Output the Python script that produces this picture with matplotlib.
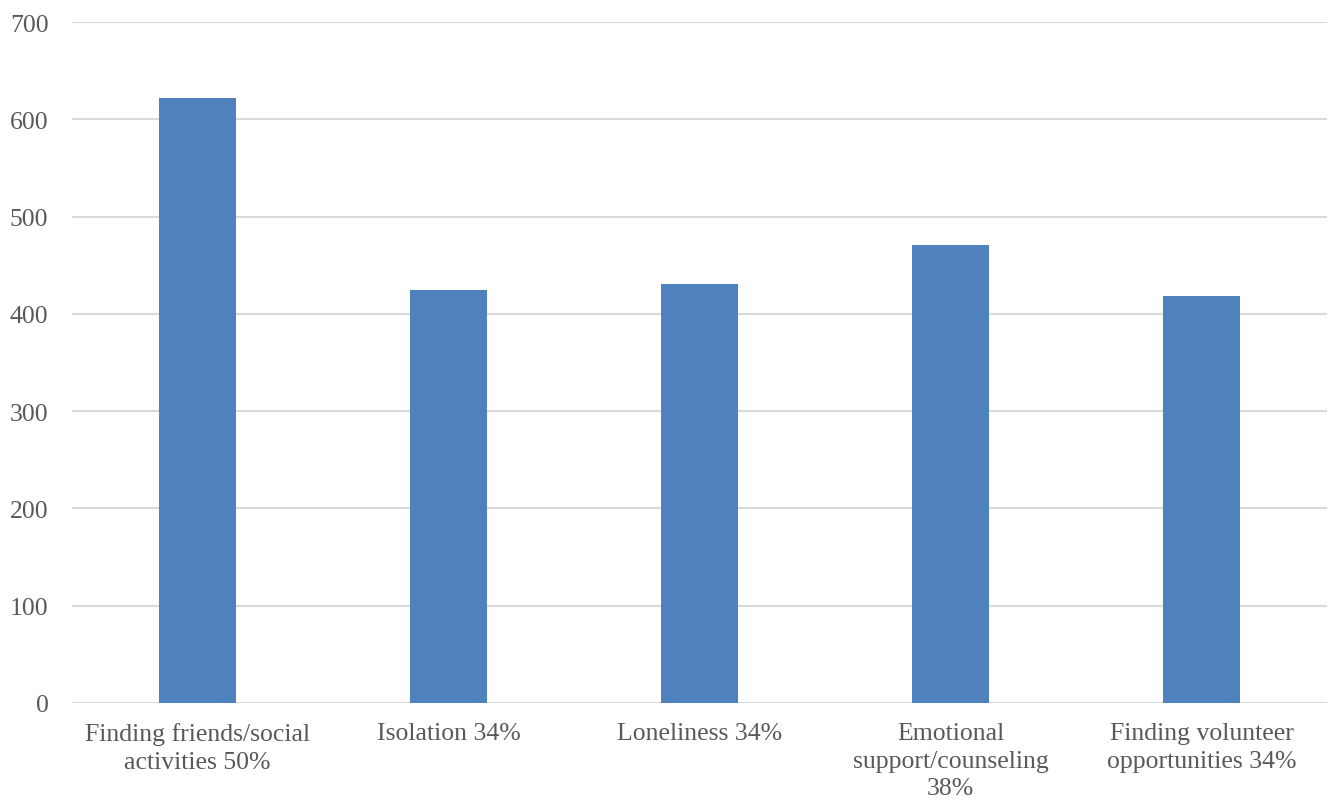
import matplotlib
matplotlib.use("Agg")
from matplotlib import pyplot as plt

categories = [
    "Finding friends/social\nactivities 50%",
    "Isolation 34%",
    "Loneliness 34%",
    "Emotional\nsupport/counseling\n38%",
    "Finding volunteer\nopportunities 34%",
]
counts = [622, 425, 431, 471, 418]
y_ticks = [0, 100, 200, 300, 400, 500, 600, 700]

plt.rcParams["font.family"] = ["Liberation Serif", "DejaVu Serif"]
text_color = "#595959"

fig = plt.figure(figsize=(13.29, 8.04), dpi=100)
ax = fig.add_axes([72 / 1329, 1 - 704 / 804, 1255 / 1329, 681 / 804])

ax.bar(range(len(categories)), counts, width=0.31, color="#4f81bd", zorder=3)

ax.set_xlim(-0.5, len(categories) - 0.5)
ax.set_ylim(0, 700)
ax.set_yticks(y_ticks)
ax.set_xticks(range(len(categories)))
ax.set_xticklabels(categories, linespacing=1.3)
ax.grid(axis="y", color="#d9d9d9", linewidth=1.5, zorder=0)

for s in ax.spines.values():
    s.set_visible(False)
ax.tick_params(axis="both", length=0, colors=text_color, labelsize=18.5)
ax.tick_params(axis="y", pad=17)
ax.tick_params(axis="x", pad=14)

fig.savefig("out.png", dpi=100)
